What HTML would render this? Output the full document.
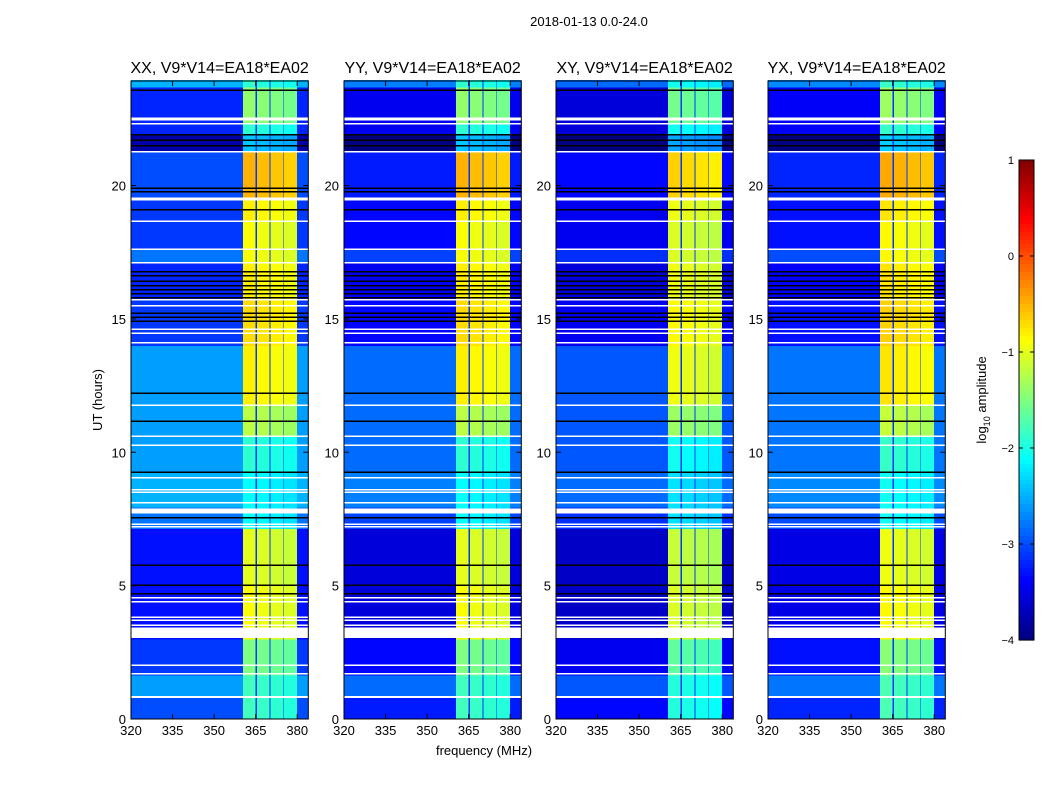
<!DOCTYPE html>
<html><head><meta charset="utf-8">
<style>
body{margin:0;background:#fff;}
svg text{font-family:"Liberation Sans",sans-serif;fill:#000;}
</style></head>
<body>
<svg id="fig" width="1050" height="800" viewBox="0 0 1050 800" xmlns="http://www.w3.org/2000/svg">
<rect width="1050" height="800" fill="#fff"/>
<text x="589" y="26" font-size="13" text-anchor="middle">2018-01-13 0.0-24.0</text>
<text transform="translate(102,400) rotate(-90)" font-size="13" text-anchor="middle">UT (hours)</text>
<text x="484" y="755" font-size="13" text-anchor="middle">frequency (MHz)</text>
<g id="panels"></g>
<g id="cbar"></g>
</svg>
<script>
// ---- data ----
const panelTitles = ["XX, V9*V14=EA18*EA02","YY, V9*V14=EA18*EA02","XY, V9*V14=EA18*EA02","YX, V9*V14=EA18*EA02"];
const xTicks = [320,335,350,365,380];
const yTicks = [0,5,10,15,20];
// time segments [start hr, end hr]
const segStart = [0,0.85,1.65,3.0,5.0,7.15,7.95,9.25,10.6,11.8,14.0,15.75,17.1,17.6,18.7,19.5,21.25,21.9,22.3,23.7];
const segEnd   = [0.85,1.65,3.0,5.0,7.15,7.95,9.25,10.6,11.8,14.0,15.75,17.1,17.6,18.7,19.5,21.25,21.9,22.3,23.7,23.95];
const segBg    = [-3.0,-2.6,-3.1,-3.3,-3.3,-2.8,-2.5,-2.6,-2.6,-2.6,-3.1,-3.2,-2.8,-3.1,-3.1,-3.0,-3.8,-3.2,-3.2,-2.5];
const segBand  = [-1.9,-1.9,-1.6,-1.0,-1.1,-2.2,-2.2,-2.0,-1.3,-0.9,-0.8,-0.9,-1.0,-1.0,-0.9,-0.6,-2.5,-2.0,-1.5,-2.0];
const panelBgOffset = [0,-0.25,-0.35,-0.2];
const panelBandOffset = [0,0.0,-0.15,0.05];
// sub-bands (MHz) and relative offsets
const subStart = [360.5,365.4,370.4,375.3];
const subEnd   = [365.0,370.0,375.0,380.0];
const subOffset = [0.1,0.05,0,-0.05];
const gapLevel = -3.1;
// flagged rows
const whiteHours = [22.53,22.46,22.31,21.26,19.5,18.67,17.62,17.1,15.71,15.49,14.62,14.47,14.1,11.77,10.61,10.27,9.04,8.59,8.51,8.1,7.8,7.31,7.2,4.54,4.39,3.82,3.71,3.52,3.41,3.2,2.02,1.69,0.82];
const whiteWidth = [1.5,1.5,1.5,1.5,3,1.5,1.5,1.5,1.5,1.5,1.5,1.5,1.5,1.5,1.5,1.5,1.5,1.5,1.5,1.5,5,1.5,1.5,1.5,1.5,1.5,1.5,1.5,1.5,9,1.5,1.5,2];
const blackHours = [23.58,21.9,21.7,21.5,19.9,19.76,19.09,16.76,16.61,16.42,16.24,16.09,15.94,15.79,15.22,15.07,14.92,12.22,11.17,9.26,7.54,5.77,5.02,4.69];
const cbTicks = [1,0,-1,-2,-3,-4];

// ---- helpers ----
const NS="http://www.w3.org/2000/svg";
function mk(tag,attrs,parent){const e=document.createElementNS(NS,tag);for(const k in attrs)e.setAttribute(k,attrs[k]);parent.appendChild(e);return e;}
function clip(v){return Math.max(0,Math.min(1,v));}
function jet(v){const t=clip((v+4)/5);const r=clip(1.5-Math.abs(4*t-3)),g=clip(1.5-Math.abs(4*t-2)),b=clip(1.5-Math.abs(4*t-1));return `rgb(${Math.round(r*255)},${Math.round(g*255)},${Math.round(b*255)})`;}
const px0=[131,344,556,768], PW=177.3, TOP=81, BOT=719;
const fMin=320,fMax=384,hMin=0,hMax=23.92;
function xs(p,f){return px0[p]+(f-fMin)/(fMax-fMin)*PW;}
function ys(h){return BOT-(h-hMin)/(hMax-hMin)*(BOT-TOP);}

const G=document.getElementById('panels');
for(let p=0;p<4;p++){
  const g=mk('g',{},G);
  
  
  const hm=mk('g',{'shape-rendering':'crispEdges'},g);
  
  
  for(let s=0;s<segStart.length;s++){
    const y1=ys(segEnd[s]),y2=ys(segStart[s]);
    const bg=segBg[s]+panelBgOffset[p];
    let r=mk('rect',{x:xs(p,fMin),y:y1,width:PW,height:y2-y1+0.5,fill:jet(bg)},hm);
    
    
    r=mk('rect',{x:xs(p,subStart[0]),y:y1,width:xs(p,subEnd[3])-xs(p,subStart[0]),height:y2-y1+0.5,fill:jet(gapLevel)},hm);
    
    
    for(let k=0;k<subStart.length;k++){
      const v=segBand[s]+panelBandOffset[p]+subOffset[k];
      r=mk('rect',{x:xs(p,subStart[k]),y:y1,width:xs(p,subEnd[k])-xs(p,subStart[k]),height:y2-y1+0.5,fill:jet(v)},hm);
      
      
    }
  }
  for(let i=0;i<blackHours.length;i++){
    const l=mk('rect',{x:px0[p],y:ys(blackHours[i])-0.75,width:PW,height:1.5,fill:'#000'},hm);
    
    
  }
  for(let i=0;i<whiteHours.length;i++){
    const l=mk('rect',{x:px0[p],y:ys(whiteHours[i])-whiteWidth[i]/2,width:PW,height:whiteWidth[i],fill:'#fff'},hm);
    
    
  }
  const fr=mk('rect',{x:px0[p],y:TOP,width:PW,height:BOT-TOP,fill:'none',stroke:'#000','stroke-width':1},g);
  
  
  const t=mk('text',{x:px0[p]+PW/2,y:73,'font-size':16,'text-anchor':'middle'},g);
  t.textContent=panelTitles[p];
  
  
  for(const v of xTicks){
    const x=xs(p,v);
    mk('line',{x1:x,x2:x,y1:BOT,y2:BOT-5,stroke:'#000'},g);
    mk('line',{x1:x,x2:x,y1:TOP,y2:TOP+5,stroke:'#000'},g);
    const tt=mk('text',{x:x,y:BOT+16,'font-size':13,'text-anchor':'middle'},g);
    tt.textContent=v;
    
    
  }
  for(const v of yTicks){
    const y=ys(v);
    mk('line',{x1:px0[p],x2:px0[p]+5,y1:y,y2:y,stroke:'#000'},g);
    mk('line',{x1:px0[p]+PW,x2:px0[p]+PW-5,y1:y,y2:y,stroke:'#000'},g);
    const tt=mk('text',{x:px0[p]-5,y:y+5,'font-size':13,'text-anchor':'end'},g);
    tt.textContent=v;
    
    
  }
}
// colorbar
const C=document.getElementById('cbar');


const cx=1019,cw=15,cTop=160,cBot=640;
for(let i=0;i<120;i++){
  const v=1-5*(i+0.5)/120;
  mk('rect',{x:cx,y:cTop+i*(cBot-cTop)/120,width:cw,height:(cBot-cTop)/120+0.6,fill:jet(v)},C);
}
mk('rect',{x:cx,y:cTop,width:cw,height:cBot-cTop,fill:'none',stroke:'#000'},C);
for(const v of cbTicks){
  const y=cTop+(1-v)/5*(cBot-cTop);
  mk('line',{x1:cx,x2:cx+4,y1:y,y2:y,stroke:'#000'},C);
  mk('line',{x1:cx+cw,x2:cx+cw-4,y1:y,y2:y,stroke:'#000'},C);
  const tt=mk('text',{x:cx-5,y:y+4,'font-size':11,'text-anchor':'end'},C);
  tt.textContent=(v<0?'\u2212':'')+Math.abs(v);
  
  
}
const cl=mk('text',{transform:'translate(986,400) rotate(-90)','font-size':13,'text-anchor':'middle'},C);
cl.innerHTML='log<tspan font-size="9" dy="4">10</tspan><tspan dy="-4"> amplitude</tspan>';


</script>
</body></html>
